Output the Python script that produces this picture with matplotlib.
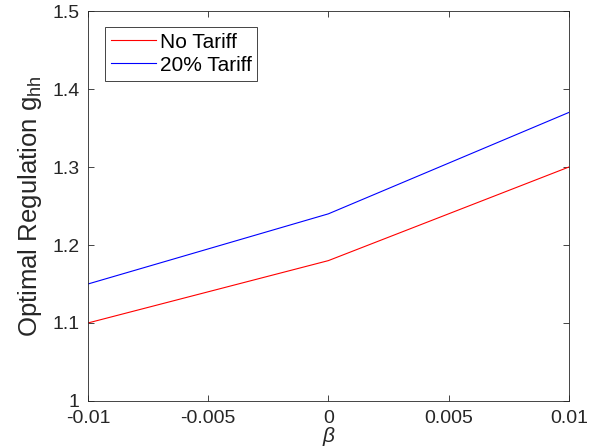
import matplotlib
matplotlib.use("Agg")
import matplotlib.pyplot as plt

plt.rcParams['font.family'] = ['Liberation Sans', 'DejaVu Sans']
plt.rcParams['mathtext.fontset'] = 'custom'
plt.rcParams['mathtext.it'] = 'Liberation Sans:italic'
plt.rcParams['mathtext.rm'] = 'Liberation Sans'

beta = [-0.01, -0.005, 0.0, 0.005, 0.01]
no_tariff = [1.10, 1.14, 1.18, 1.24, 1.30]
tariff_20 = [1.15, 1.195, 1.24, 1.305, 1.37]

xticks = [-0.01, -0.005, 0, 0.005, 0.01]
xticklabels = ['-0.01', '-0.005', '0', '0.005', '0.01']
yticks = [1, 1.1, 1.2, 1.3, 1.4, 1.5]
yticklabels = ['1', '1.1', '1.2', '1.3', '1.4', '1.5']

fig = plt.figure(figsize=(5.9, 4.46), dpi=100)
ax = fig.add_axes([0.149, 0.101, 0.815, 0.874])

ax.plot(beta, no_tariff, color='#ff0000', lw=0.8, label='No Tariff')
ax.plot(beta, tariff_20, color='#0000ff', lw=0.8, label='20% Tariff')

ax.set_xlim(-0.01, 0.01)
ax.set_ylim(1, 1.5)
ax.set_xticks(xticks)
ax.set_xticklabels(xticklabels)
ax.set_yticks(yticks)
ax.set_yticklabels(yticklabels)

axcol = '#262626'
for s in ax.spines.values():
    s.set_color(axcol)
    s.set_linewidth(0.6)
ax.tick_params(direction='in', top=True, right=True, length=4, width=0.6,
               colors=axcol, labelsize=14, labelcolor='#262626')
ax.tick_params(axis='x', pad=6.5)
ax.tick_params(axis='y', pad=6)

# plain italic beta keeps the label box small enough to fit under the ticks
ax.set_xlabel('β', fontsize=15, fontstyle='italic', color='#262626', labelpad=0)
ax.set_ylabel(r'Optimal Regulation g$_{\mathrm{hh}}$', fontsize=18.5, color='#262626', labelpad=6)

leg = ax.legend(loc='upper left', bbox_to_anchor=(0.035, 0.96), fontsize=15, fancybox=False,
                framealpha=1, edgecolor=axcol, handlelength=2.2, handletextpad=0.15,
                borderpad=0.28, labelspacing=0.2, borderaxespad=0)
leg.get_frame().set_linewidth(0.6)

fig.savefig('out.png', dpi=100)
